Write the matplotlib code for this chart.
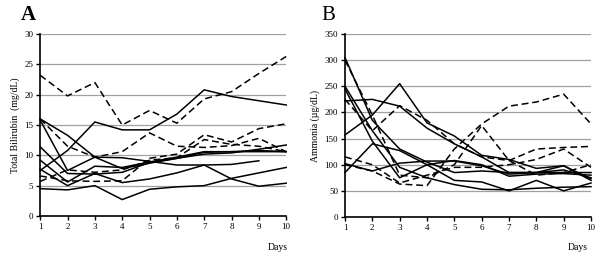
import numpy as np
import matplotlib.pyplot as plt

plt.rcParams['font.family'] = ['Liberation Serif', 'DejaVu Serif']

days = list(range(1, 11))
nan = np.nan

# total bilirubin (mg/dL), solid series
bili_solid = [
    [7.5, 10.8, 15.5, 14.2, 14.2, 16.8, 20.8, 19.7, 19.0, 18.3],
    [16.0, 13.3, 9.7, 7.8, 8.7, 9.5, 10.5, 10.6, 10.6, 10.6],
    [15.8, 7.5, 9.7, 9.6, 9.0, 8.4, 8.4, 8.5, 9.1, nan],
    [11.4, 7.0, 6.9, 7.2, 8.8, 9.5, 10.2, 10.4, 11.0, 11.7],
    [9.2, 5.6, 8.2, 8.0, 8.9, 9.7, 10.6, 10.6, 10.8, 10.6],
    [7.7, 5.0, 7.0, 5.5, 6.1, 7.1, 8.4, 6.1, 4.9, 5.4],
    [4.5, 4.3, 5.0, 2.7, 4.4, 4.8, 5.0, 6.2, 7.1, 8.0],
]
# total bilirubin (mg/dL), dashed series
bili_dash = [
    [23.2, 19.8, 22.0, 15.0, 17.4, 15.3, 19.3, 20.5, 23.5, 26.3],
    [16.0, 11.5, 9.7, 10.6, 13.7, 11.5, 11.3, 11.6, 12.8, 10.6],
    [5.7, 7.6, 7.2, 7.6, 9.2, 9.6, 12.6, 11.8, 11.5, 10.6],
    [6.6, 5.8, 5.7, 5.8, 9.5, 10.2, 13.4, 12.2, 14.4, 15.2],
]

# ammonia (ug/dL), solid series
amm_solid = [
    [157, 195, 255, 180, 155, 118, 110, 93, 98, 73],
    [222, 225, 212, 170, 140, 115, 85, 85, 85, 85],
    [305, 185, 130, 105, 85, 88, 85, 85, 90, 75],
    [250, 165, 95, 75, 62, 53, 52, 55, 57, 58],
    [245, 145, 75, 100, 108, 100, 78, 82, 83, 80],
    [85, 140, 127, 100, 70, 67, 50, 70, 50, 65],
    [102, 88, 103, 107, 107, 98, 82, 85, 98, 70],
]
# ammonia (ug/dL), dashed series
amm_dash = [
    [100, 88, 63, 60, 130, 178, 212, 220, 235, 178],
    [225, 165, 213, 185, 140, 115, 108, 130, 133, 135],
    [300, 195, 80, 75, 100, 175, 108, 80, 85, 100],
    [115, 100, 65, 80, 95, 95, 100, 110, 130, 95],
]

fig = plt.figure(figsize=(6, 2.58), dpi=100)
axA = fig.add_axes([0.067, 0.163, 0.41, 0.705])
axB = fig.add_axes([0.575, 0.159, 0.41, 0.709])


def style(ax, ymax, ystep, ylabel):
    ax.set_xlim(1, 10)
    ax.set_ylim(0, ymax)
    ax.set_xticks(days)
    ax.set_yticks(np.arange(0, ymax + 1, ystep))
    ax.grid(axis='y', color='#a0a0a0', lw=0.9)
    ax.set_axisbelow(True)
    for side in ['top', 'right']:
        ax.spines[side].set_visible(False)
    for side in ['left', 'bottom']:
        ax.spines[side].set_linewidth(1.2)
    ax.tick_params(labelsize=6.5, length=3, width=1, pad=2)
    ax.set_ylabel(ylabel, fontsize=7, labelpad=3)


def draw(ax, solid, dashed):
    for s in solid:
        ax.plot(days, s, color='black', lw=1.1, clip_on=False)
    for s in dashed:
        ax.plot(days, s, color='black', lw=1.1, ls=(0, (4.5, 2.5)), clip_on=False)


draw(axA, bili_solid, bili_dash)
draw(axB, amm_solid, amm_dash)

style(axA, 30, 5, 'Total Bilirubin  (mg/dL)')
style(axB, 350, 50, 'Ammonia (\u00b5g/dL)')

fig.text(0.035, 0.94, 'A', fontsize=15, fontweight='bold', va='center')
fig.text(0.535, 0.94, 'B', fontsize=15, va='center')
fig.text(0.48, 0.04, 'Days', fontsize=7, ha='right', va='center')
fig.text(0.98, 0.04, 'Days', fontsize=7, ha='right', va='center')

fig.savefig('out.png', dpi=100)
